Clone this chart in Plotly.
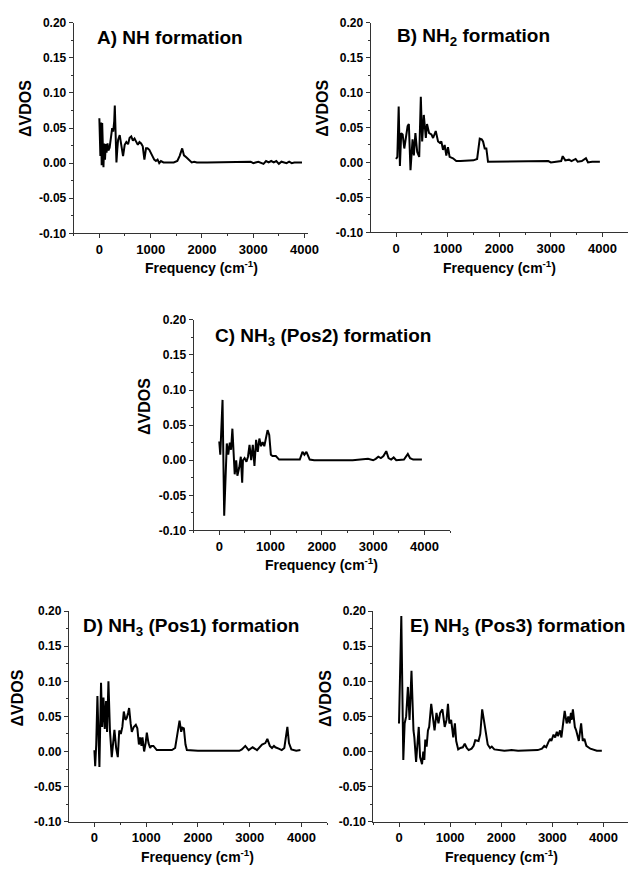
import plotly.graph_objects as go

# ---------------- data ----------------
a_freq = [0, 20, 35, 45, 55, 65, 80, 95, 110, 125, 140, 160, 175, 200, 230, 250, 270, 290, 301, 315, 333, 350, 365, 397,
          429, 462, 494, 526, 560, 590, 622, 654, 686, 718, 750, 782, 814, 846, 878, 910, 940, 974, 1010, 1038, 1070, 1103,
          1135, 1167, 1200, 1250, 1350, 1450, 1520, 1564, 1615, 1650, 1700, 1750, 1800, 1850, 1900, 2100, 2400, 2700,
          2900, 2950, 3000, 3100, 3200, 3250, 3300, 3350, 3400, 3450, 3500, 3550, 3650, 3700, 3750, 3800, 3950]
a_dvdos = [0.064, 0.010, 0.058, -0.003, 0.057, 0.000, -0.006, 0.028, 0.005, 0.027, 0.015, 0.028, 0.018, 0.022, 0.040,
           0.050, 0.045, 0.060, 0.082, 0.030, 0.001, 0.020, 0.033, 0.040, 0.025, 0.010, 0.026, 0.030, 0.027, 0.036,
           0.038, 0.032, 0.035, 0.030, 0.026, 0.030, 0.028, 0.024, 0.005, 0.021, 0.021, 0.019, 0.014, 0.010, 0.005,
           0.003, 0.005, 0.000, 0.003, 0.001, 0.001, 0.001, 0.003, 0.010, 0.021, 0.011, 0.008, 0.004, 0.001, 0.002,
           0.001, 0.001, 0.001, 0.001, 0.001, 0.002, 0.000, 0.002, -0.001, 0.003, 0.001, 0.003, 0.001, 0.003, -0.001,
           0.002, 0.000, 0.002, 0.000, 0.001, 0.001]

b_freq = [0, 25, 51, 75, 100, 128, 160, 192, 224, 248, 280, 320, 345, 375, 410, 449, 480, 506, 538, 577, 600, 641, 686,
          718, 769, 814, 850, 878, 910, 942, 974, 1006, 1038, 1103, 1167, 1250, 1400, 1500, 1571, 1622, 1660, 1686, 1718,
          1750, 1782, 1850, 2100, 2400, 2700, 2950, 3000, 3100, 3200, 3230, 3280, 3350, 3400, 3480, 3520, 3600, 3680,
          3720, 3800, 3950]
b_dvdos = [0.005, 0.008, 0.080, -0.005, 0.042, 0.040, 0.020, 0.040, 0.052, 0.055, -0.011, 0.033, 0.010, 0.042, 0.015,
           0.008, 0.094, 0.030, 0.068, 0.035, 0.055, 0.042, 0.040, 0.035, 0.045, 0.030, 0.028, 0.030, 0.018, 0.025,
           0.010, 0.022, 0.008, 0.006, 0.002, 0.002, 0.002, 0.003, 0.005, 0.034, 0.033, 0.030, 0.020, 0.020, 0.001,
           0.001, 0.001, 0.001, 0.001, 0.002, 0.000, 0.001, 0.002, 0.009, 0.003, 0.004, 0.002, 0.005, 0.001, 0.002,
           0.006, 0.000, 0.001, 0.001]

c_freq = [0, 20, 64, 96, 147, 175, 205, 230, 256, 280, 301, 330, 353, 390, 420, 447, 462, 494, 530, 560, 590, 622, 654,
          686, 718, 750, 782, 814, 846, 878, 942, 974, 1006, 1038, 1103, 1167, 1300, 1500, 1570, 1622, 1660, 1699, 1763,
          1850, 2200, 2600, 2900, 3000, 3050, 3100, 3150, 3200, 3255, 3300, 3350, 3400, 3450, 3550, 3600, 3676, 3720,
          3780, 3950]
c_dvdos = [0.027, 0.008, 0.086, -0.079, 0.024, 0.008, 0.025, 0.015, 0.045, 0.008, -0.020, 0.000, -0.022, -0.010,
           0.005, -0.032, 0.000, 0.003, -0.002, 0.005, 0.022, 0.000, 0.022, -0.008, 0.029, 0.012, 0.031, 0.020, 0.026,
           0.020, 0.043, 0.036, 0.008, 0.006, 0.006, 0.001, 0.001, 0.001, 0.001, 0.012, 0.008, 0.012, 0.001, 0.000,
           0.000, 0.000, 0.002, 0.000, 0.002, 0.005, 0.003, 0.006, 0.013, 0.003, 0.001, 0.004, 0.000, 0.001, 0.001,
           0.009, 0.003, 0.001, 0.001]

d_freq = [0, 15, 35, 58, 80, 97, 128, 150, 175, 200, 225, 245, 271, 300, 335, 360, 387, 420, 452, 480, 510, 540, 568,
          600, 626, 650, 671, 700, 723, 760, 800, 830, 860, 884, 910, 929, 961, 990, 1013, 1045, 1077, 1100, 1140, 1206,
          1300, 1400, 1497, 1560, 1600, 1645, 1677, 1700, 1729, 1760, 1787, 2000, 2400, 2800, 2850, 2916, 2981, 3058,
          3142, 3200, 3239, 3303, 3342, 3390, 3432, 3470, 3497, 3561, 3620, 3670, 3700, 3729, 3760, 3806, 3900, 3981]
d_dvdos = [0.002, -0.021, 0.010, 0.079, 0.020, -0.022, 0.098, 0.035, 0.077, 0.032, 0.072, 0.028, 0.100, 0.030,
           -0.008, 0.010, 0.031, 0.005, -0.008, 0.030, 0.025, 0.035, 0.057, 0.045, 0.048, 0.055, 0.062, 0.040, 0.028,
           0.035, 0.038, 0.033, 0.010, 0.020, 0.008, 0.020, 0.000, 0.012, 0.027, 0.012, 0.005, 0.008, 0.008, 0.002,
           0.002, 0.002, 0.002, 0.005, 0.025, 0.044, 0.028, 0.034, 0.033, 0.010, 0.002, 0.001, 0.001, 0.001, 0.003,
           0.008, 0.002, 0.006, 0.002, 0.007, 0.010, 0.012, 0.018, 0.008, 0.005, 0.008, 0.006, 0.004, 0.002, 0.005,
           0.025, 0.035, 0.012, 0.003, 0.001, 0.002]

e_freq = [0, 45, 84, 110, 140, 174, 206, 244, 283, 300, 334, 386, 412, 450, 475, 495, 514, 540, 566, 590, 630, 668,
          695, 733, 772, 805, 849, 894, 930, 958, 985, 1020, 1061, 1093, 1119, 1158, 1200, 1248, 1286, 1325, 1363, 1420,
          1460, 1492, 1556, 1590, 1627, 1660, 1691, 1735, 1781, 1815, 1865, 2060, 2199, 2330, 2714, 2797, 2842, 2880,
          2920, 2955, 2980, 3023, 3055, 3087, 3110, 3151, 3177, 3203, 3241, 3280, 3312, 3338, 3363, 3377, 3402, 3440,
          3467, 3518, 3563, 3595, 3627, 3665, 3743, 3870, 3968]
e_dvdos = [0.040, 0.193, -0.012, 0.040, 0.050, 0.092, 0.045, 0.115, 0.030, 0.020, -0.015, 0.035, -0.008, -0.018,
           0.000, -0.012, 0.017, 0.007, 0.030, 0.035, 0.068, 0.040, 0.030, 0.055, 0.040, 0.055, 0.060, 0.035, 0.045,
           0.068, 0.040, 0.045, 0.020, 0.040, 0.015, 0.003, 0.005, 0.006, 0.011, 0.005, 0.002, 0.004, 0.008, 0.016,
           0.015, 0.025, 0.060, 0.045, 0.030, 0.010, 0.005, 0.007, 0.003, 0.001, 0.002, 0.001, 0.002, 0.004, 0.008,
           0.006, 0.013, 0.018, 0.015, 0.024, 0.020, 0.028, 0.022, 0.030, 0.020, 0.035, 0.058, 0.040, 0.050, 0.040,
           0.055, 0.045, 0.060, 0.035, 0.030, 0.015, 0.040, 0.015, 0.018, 0.008, 0.004, 0.001, 0.001]

panel_titles = ["A) NH formation", "B) NH<sub>2</sub> formation", "C) NH<sub>3</sub> (Pos2) formation",
                "D) NH<sub>3</sub> (Pos1) formation", "E) NH<sub>3</sub> (Pos3) formation"]
y_tick_vals = [-0.10, -0.05, 0.00, 0.05, 0.10, 0.15, 0.20]
y_tick_text = ["-0.10", "-0.05", "0.00", "0.05", "0.10", "0.15", "0.20"]
x_tick_vals = [0, 1000, 2000, 3000, 4000]
x_tick_text = ["0", "1000", "2000", "3000", "4000"]
y_title = "ΔVDOS"
x_title = "Frequency (cm<sup>-1</sup>)"

# ---------------- layout geometry ----------------
W, H = 639, 871
FONT = "Liberation Sans, Arial, sans-serif"

def fx(px):
    return px / W

def fy(py):
    return 1 - py / H

# (x-left px, x-right px, y-bottom px, y-top px, x range)
panels = [
    (75, 313, 230, 16, [-500, 4060]),
    (377, 639, 229, 16, [-495, 4495]),
    (197, 458, 532, 318, [-500, 4500]),
    (70, 333, 828, 614, [-495, 4500]),
    (380, 639, 828, 614, [-500, 4480]),
]
series = [(a_freq, a_dvdos), (b_freq, b_dvdos), (c_freq, c_dvdos), (d_freq, d_dvdos), (e_freq, e_dvdos)]
title_pos = [(97, 31), (402, 30), (217, 335), (82, 630), (415, 630)]
ytitle_pos = [(26, 103), (328, 103), (147, 406), (18, 702), (331, 703)]
xtitle_y = [264, 264, 566, 863, 863]

fig = go.Figure()
layout = dict(
    width=W, height=H, margin=dict(l=0, r=0, t=0, b=0, pad=0),
    paper_bgcolor="white", plot_bgcolor="white", showlegend=False,
    font=dict(family=FONT, color="black"),
    annotations=[],
)

for i, ((x0, x1, yb, yt, xr), (xs, ys)) in enumerate(zip(panels, series)):
    n = "" if i == 0 else str(i + 1)
    fig.add_trace(go.Scatter(x=xs, y=ys, mode="lines", line=dict(color="black", width=2),
                             xaxis="x" + n, yaxis="y" + n, hoverinfo="skip"))
    layout["xaxis" + n] = dict(
        domain=[fx(x0), fx(x1)], range=xr, anchor="y" + n,
        showgrid=False, zeroline=False, showline=True, linecolor="#333", linewidth=1,
        ticks="outside", ticklen=4, tickwidth=1, tickcolor="#333",
        tickvals=x_tick_vals, ticktext=["<b>%s</b>" % t for t in x_tick_text],
        tickfont=dict(family=FONT, size=13, weight="bold", color="black"),
        minor=dict(tickvals=[-500, 500, 1500, 2500, 3500, 4500], ticks="outside", ticklen=2, tickcolor="#333"),
    )
    layout["yaxis" + n] = dict(
        domain=[fy(yb), fy(yt)], range=[-0.10, 0.20], anchor="x" + n,
        showgrid=False, zeroline=False, showline=True, linecolor="#333", linewidth=1,
        ticks="outside", ticklen=4, tickwidth=1, tickcolor="#333",
        tickvals=y_tick_vals, ticktext=["<b>%s</b>" % t for t in y_tick_text],
        tickfont=dict(family=FONT, size=12, weight="bold", color="black"),
        minor=dict(dtick=0.025, ticks="outside", ticklen=2, tickcolor="#333"),
    )
    tx, ty = title_pos[i]
    layout["annotations"].append(dict(
        text="<b>%s</b>" % panel_titles[i], x=fx(tx), y=fy(ty), xref="paper", yref="paper",
        xanchor="left", yanchor="middle", showarrow=False,
        font=dict(family=FONT, size=19, weight="bold", color="black")))
    ax, ay = ytitle_pos[i]
    layout["annotations"].append(dict(
        text="<b>%s</b>" % y_title, x=fx(ax), y=fy(ay), xref="paper", yref="paper", textangle=-90,
        xanchor="center", yanchor="middle", showarrow=False,
        font=dict(family=FONT, size=16, weight="bold", color="black")))
    xc = x0 + (2000 - xr[0]) / (xr[1] - xr[0]) * (x1 - x0)
    layout["annotations"].append(dict(
        text="<b>%s</b>" % x_title, x=fx(xc), y=fy(xtitle_y[i]), xref="paper", yref="paper",
        xanchor="center", yanchor="middle", showarrow=False,
        font=dict(family=FONT, size=14, weight="bold", color="black")))

fig.update_layout(**layout)
fig.write_html("out.html", config={"displayModeBar": False, "staticPlot": True},
               post_script="document.body.style.margin='0';document.body.style.padding='0';"
                           "document.documentElement.style.overflow='hidden';")
